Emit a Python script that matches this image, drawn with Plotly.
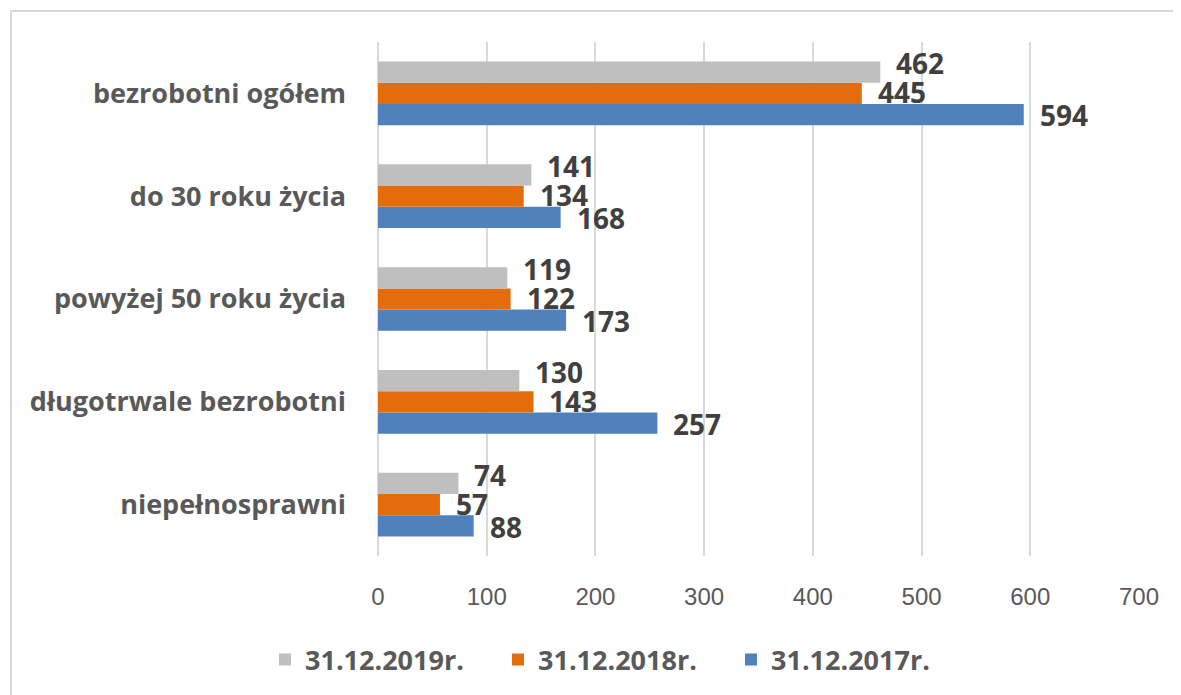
import plotly.graph_objects as go

categories = ["bezrobotni ogółem", "do 30 roku życia", "powyżej 50 roku życia",
              "długotrwale bezrobotni", "niepełnosprawni"]
series_names = ["31.12.2017r.", "31.12.2018r.", "31.12.2019r."]
values_2017 = [594, 168, 173, 257, 88]
values_2018 = [445, 134, 122, 143, 57]
values_2019 = [462, 141, 119, 130, 74]
x_ticks = [0, 100, 200, 300, 400, 500, 600, 700]
fragment_title = "2018 oraz 2019 roku"

colors = ["#4F81BD", "#E46C0A", "#BFBFBF"]
label_yshift = [-22, 1, 30]   # vertical offset of value labels per series (px)

# page offset caused by the default body margin
OFF = 8
W, H = 1181 - OFF, 695 - OFF
PL, PR, PT, PB = 378, 1139, 42, 557          # plot area in page pixels
L, R, T, B = PL - OFF, W - (PR - OFF), PT - OFF, H - (PB - OFF)
PW, PH = PR - PL, PB - PT


def px(x):
    return (x - PL) / PW


def py(y):
    return (PB - y) / PH


fig = go.Figure()
series_values = [values_2017, values_2018, values_2019]
for name, vals, col in zip(series_names, series_values, colors):
    fig.add_trace(go.Bar(
        y=categories, x=vals, name=name, orientation="h",
        marker=dict(color=col, line=dict(width=0)),
    ))

annotations = []
for vals, ys in zip(series_values, label_yshift):
    for cat, v in zip(categories, vals):
        annotations.append(dict(
            x=v, y=cat, xref="x", yref="y", text=str(v), showarrow=False,
            xanchor="left", yanchor="middle", xshift=14, yshift=ys,
            font=dict(family="Open Sans", size=28, color="#404040", weight="bold"),
        ))

annotations.append(dict(text=fragment_title, xref="paper", yref="paper",
                        x=px(162), y=py(15), xanchor="left", yanchor="bottom", showarrow=False,
                        font=dict(family="Liberation Serif", size=24, color="black")))

fig.update_layout(
    width=W, height=H,
    margin=dict(l=L, r=R, t=T, b=B),
    paper_bgcolor="white", plot_bgcolor="white",
    barmode="group", bargap=0.38, bargroupgap=0,
    showlegend=True,
    legend=dict(orientation="h", traceorder="reversed",
                x=px(265), y=py(660), xanchor="left", yanchor="middle",
                entrywidth=188, entrywidthmode="pixels",
                font=dict(family="Open Sans", size=27, color="#595959", weight="bold"),
                itemwidth=30),
    xaxis=dict(range=[0, 700], tickvals=x_ticks, showgrid=True, gridcolor="#D9D9D9",
               gridwidth=2, zeroline=True, zerolinecolor="#D9D9D9", zerolinewidth=2,
               showline=False, ticks="", ticklabelstandoff=24,
               tickfont=dict(family="Liberation Sans", size=24, color="#595959")),
    yaxis=dict(categoryorder="array", categoryarray=categories[::-1], showgrid=False,
               showline=False, ticks="", ticklabelstandoff=31,
               tickfont=dict(family="Open Sans", size=27, color="#595959", weight="bold")),
    shapes=[dict(type="rect", xref="paper", yref="paper",
                 x0=px(11), x1=px(1400), y0=py(11), y1=py(900),
                 line=dict(color="#D9D9D9", width=2), fillcolor="rgba(0,0,0,0)", layer="below")],
    annotations=annotations,
)

fig.write_html("out.html")
